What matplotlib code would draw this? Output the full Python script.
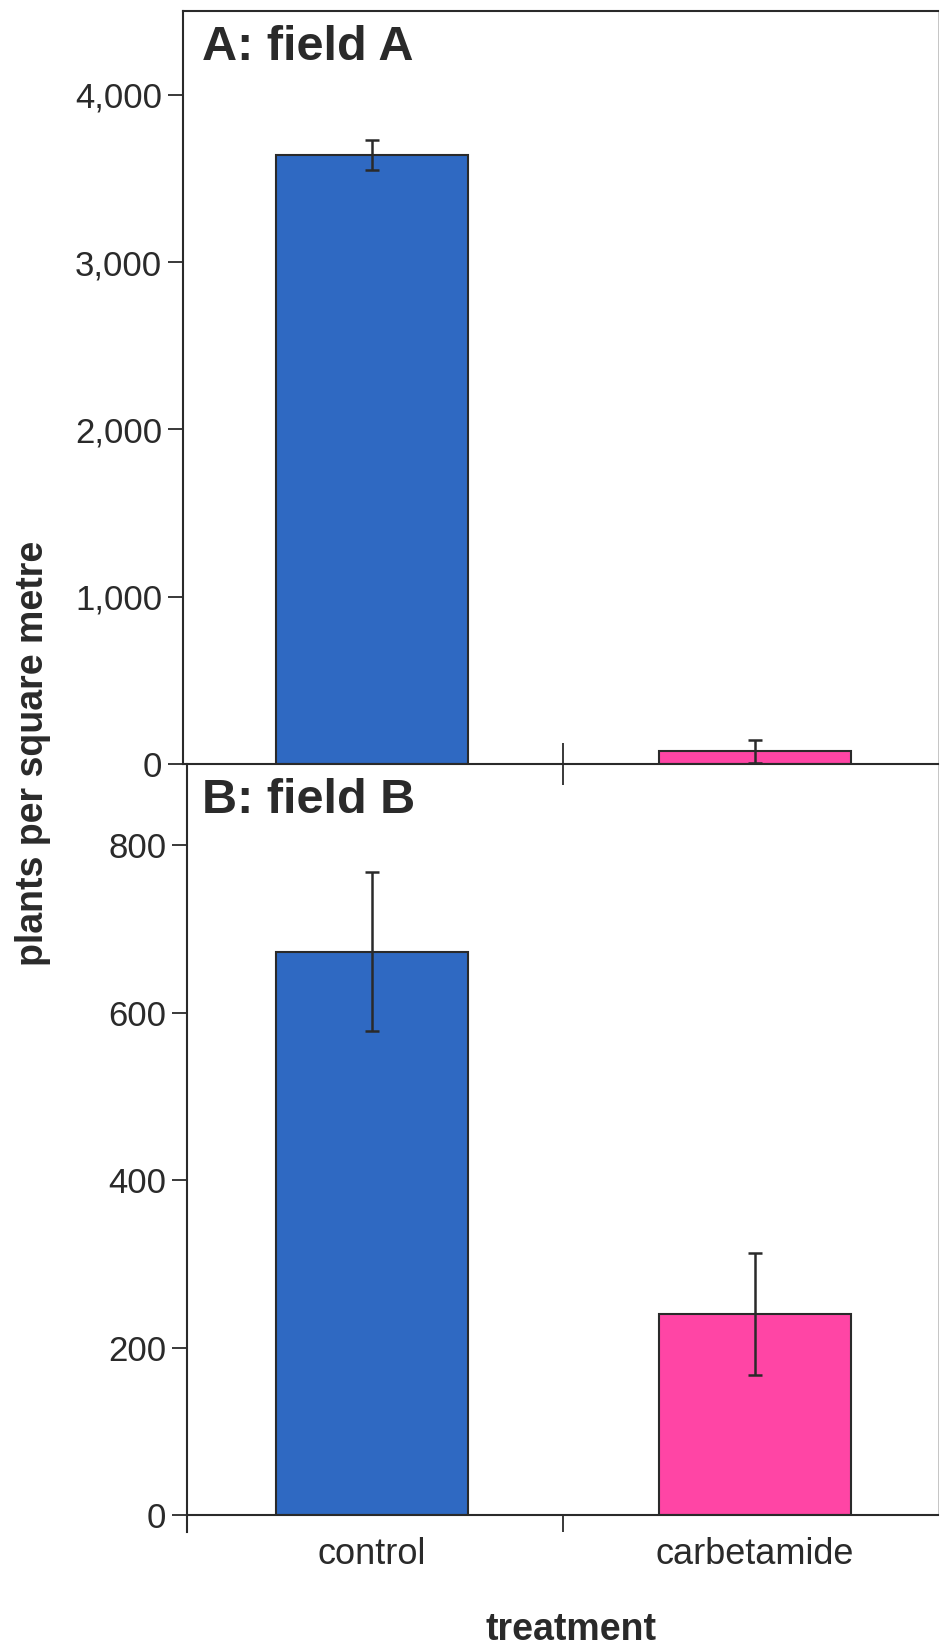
import matplotlib
matplotlib.use('Agg')
import matplotlib.pyplot as plt
import numpy as np

plt.rcParams['font.family'] = ['Liberation Sans', 'DejaVu Sans']

# plant density by treatment, two fields
treatments = ['control', 'carbetamide']
field_a_mean = [3640, 75]
field_a_err = [90, 70]
field_b_mean = [673, 240]
field_b_err = [95, 73]

colors = ['#2F69C2', '#FF45A5']
edge = '#2a2a2a'

W, H = 940, 1651
fig = plt.figure(figsize=(W / 100, H / 100), dpi=100)
x = np.arange(len(treatments))

def px_axes(left, right, top, bottom):
    # axes rectangle given in pixel edges
    return fig.add_axes([left / W, 1 - bottom / H, (right - left) / W, (bottom - top) / H])

def style_axis(ax, ymax, ticks, labels):
    ax.set_ylim(0, ymax)
    ax.set_yticks(ticks)
    ax.set_yticklabels(labels)
    ax.tick_params(axis='y', direction='out', length=11, width=1.3,
                   labelsize=25, pad=4, colors=edge)
    for s in ax.spines.values():
        s.set_linewidth(1.5)
        s.set_color(edge)

def draw_bars(ax, means, errs):
    ax.bar(x, means, width=0.5, color=colors, edgecolor=edge, linewidth=1.5)
    ax.errorbar(x, means, yerr=errs, fmt='none', ecolor=edge,
                elinewidth=1.8, capsize=5, capthick=1.8)

# A: field A
ax1 = px_axes(183, 938, 11, 764)
draw_bars(ax1, field_a_mean, field_a_err)
ax1.set_xlim(-0.493, 1.478)
style_axis(ax1, 4500, [0, 1000, 2000, 3000, 4000],
           ['0', '1,000', '2,000', '3,000', '4,000'])
ax1.spines['right'].set_linewidth(0.6)
ax1.spines['right'].set_color('#bbbbbb')
ax1.set_xticks([0.5])
ax1.set_xticklabels([])
ax1.tick_params(axis='x', direction='inout', length=30, width=1.3, colors=edge)
ax1.text(0.025, 0.935, 'A: field A', transform=ax1.transAxes, fontsize=35,
         fontweight='bold', va='baseline', ha='left', color=edge)
ax1.set_zorder(2)
ax1.patch.set_alpha(0)

# B: field B
ax2 = px_axes(187, 938, 764, 1515)
draw_bars(ax2, field_b_mean, field_b_err)
ax2.set_xlim(-0.483, 1.478)
style_axis(ax2, 897, [0, 200, 400, 600, 800], ['0', '200', '400', '600', '800'])
ax2.spines['top'].set_visible(False)
ax2.spines['right'].set_linewidth(0.6)
ax2.spines['right'].set_color('#bbbbbb')
ax2.spines['left'].set_bounds(-20, 897)
ax2.set_xticks([0.5])
ax2.set_xticklabels([])
ax2.tick_params(axis='x', direction='out', length=12, width=1.3, colors=edge)
for xi, name in zip(x, treatments):
    ax2.text(xi, -0.053, name, transform=ax2.get_xaxis_transform(),
             ha='center', va='center', fontsize=26, color=edge)
ax2.text(0.02, 0.935, 'B: field B', transform=ax2.transAxes, fontsize=35,
         fontweight='bold', va='baseline', ha='left', color=edge)

fig.text(571 / W, 1 - 1630 / H, 'treatment', ha='center', va='center',
         fontsize=27, fontweight='bold', color=edge)
fig.text(33 / W, 1 - 753 / H, 'plants per square metre', rotation=90,
         ha='center', va='center', fontsize=27, fontweight='bold', color=edge)

fig.savefig('out.png', dpi=100)
